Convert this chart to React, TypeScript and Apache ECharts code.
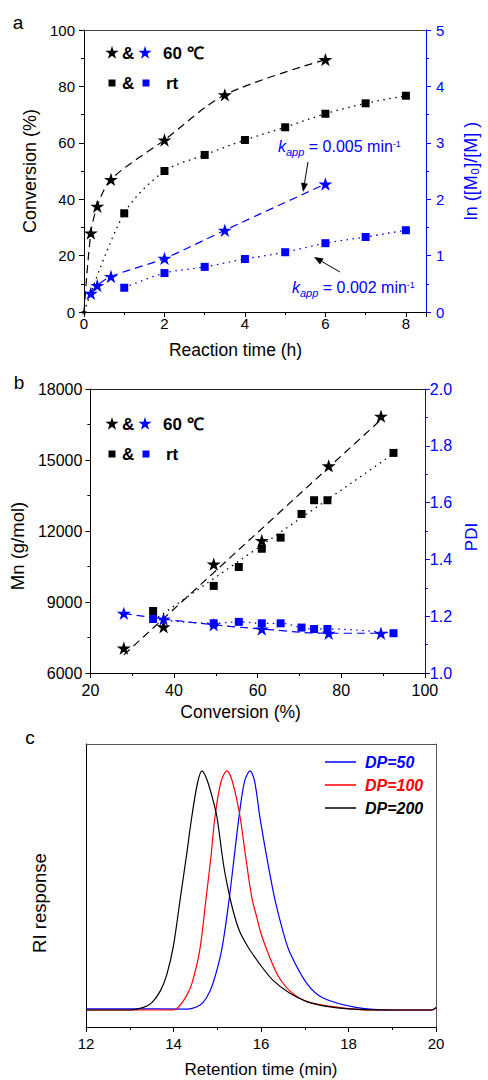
import React, { useEffect, useRef } from "react";
import * as echarts from "echarts";

const FONT = "Liberation Sans, Arial, sans-serif";
const BLUE = "#0000ff";
const RED = "#ff0000";
const BLACK = "#000000";

// ---------- Panel a ----------
const timeStar60 = [0, 0.17, 0.33, 0.67, 2, 3.5, 6];
const conv60 = [0, 28, 37.5, 47, 61, 77, 89.5];
const timeBlueStar = [0.17, 0.33, 0.67, 2, 3.5, 6];
const ln60 = [0.33, 0.47, 0.63, 0.95, 1.45, 2.27];
const timeRT = [1, 2, 3, 4, 5, 6, 7, 8];
const convRT = [35, 50, 55.7, 61, 65.5, 70.3, 74, 76.7];
const lnRT = [0.43, 0.69, 0.8, 0.94, 1.06, 1.22, 1.33, 1.45];

// ---------- Panel b ----------
const convStarB = [28, 37.5, 49.5, 61, 77, 89.5];
const mnStarB = [7050, 7950, 10600, 11600, 14750, 16850];
const pdiStarB = [1.21, 1.19, 1.17, 1.155, 1.14, 1.14];
const convSqB = [35, 49.5, 55.5, 61, 65.5, 70.5, 73.5, 76.7, 92.5];
const mnSqB = [8620, 9680, 10480, 11250, 11720, 12720, 13300, 13300, 15300];
const pdiSqB = [1.19, 1.175, 1.18, 1.175, 1.175, 1.16, 1.155, 1.155, 1.14];

// ---------- Panel c (GPC traces, normalised RI response) ----------
const tDP200 = [12, 13, 13.3, 13.5, 13.7, 13.85, 14, 14.15, 14.3, 14.42, 14.55, 14.65, 14.75, 14.87, 14.99, 15.15, 15.29, 15.4, 15.52, 15.65, 15.75, 15.98, 16.27, 16.66, 17.05, 17.5, 18, 19, 19.9, 20];
const rDP200 = [0, 0, 0.01, 0.03, 0.08, 0.15, 0.27, 0.46, 0.65, 0.81, 0.95, 1, 0.97, 0.9, 0.81, 0.6, 0.47, 0.39, 0.325, 0.28, 0.25, 0.19, 0.125, 0.07, 0.035, 0.015, 0.005, 0, 0, 0.01];
const tDP100 = [12, 13, 14, 14.15, 14.3, 14.42, 14.6, 14.74, 14.85, 14.95, 15.08, 15.22, 15.32, 15.42, 15.52, 15.65, 15.79, 15.9, 16, 16.2, 16.4, 16.66, 17.05, 17.8, 18.5, 19.9, 20];
const rDP100 = [0, 0, 0, 0.02, 0.06, 0.11, 0.25, 0.46, 0.63, 0.81, 0.95, 1, 0.97, 0.9, 0.81, 0.64, 0.47, 0.39, 0.32, 0.22, 0.14, 0.08, 0.035, 0.01, 0, 0, 0.01];
const tDP50 = [12, 13, 14.3, 14.6, 14.75, 14.9, 15.1, 15.27, 15.4, 15.52, 15.63, 15.75, 15.85, 15.98, 16.15, 16.32, 16.5, 16.66, 17.05, 17.42, 18.2, 19, 19.9, 20];
const rDP50 = [0.005, 0.005, 0.004, 0.02, 0.05, 0.11, 0.25, 0.46, 0.66, 0.84, 0.96, 1, 0.96, 0.8, 0.62, 0.46, 0.33, 0.24, 0.11, 0.05, 0.01, 0, 0, 0.01];

const legendC = ["DP=50", "DP=100", "DP=200"];
const legendCColors = [BLUE, RED, BLACK];

const STAR =
  "path://M50,0 L61.23,34.55 L97.55,34.55 L68.16,55.9 L79.39,90.45 L50,69.1 L20.61,90.45 L31.84,55.9 L2.45,34.55 L38.77,34.55 Z";

const zip = (xs: number[], ys: number[]) => xs.map((x, i) => [x, ys[i]]);

function fitLine(xs: number[], ys: number[]) {
  const n = xs.length;
  const mx = xs.reduce((a, b) => a + b, 0) / n;
  const my = ys.reduce((a, b) => a + b, 0) / n;
  let sxy = 0, sxx = 0;
  for (let i = 0; i < n; i++) {
    sxy += (xs[i] - mx) * (ys[i] - my);
    sxx += (xs[i] - mx) * (xs[i] - mx);
  }
  const b = sxy / sxx;
  const a = my - b * mx;
  const x0 = Math.min(...xs), x1 = Math.max(...xs);
  return [[x0, a + b * x0], [x1, a + b * x1]];
}

function starPts(cx: number, cy: number, R: number) {
  const r = R * 0.382;
  const pts: number[][] = [];
  for (let i = 0; i < 10; i++) {
    const ang = ((-90 + 36 * i) * Math.PI) / 180;
    const rad = i % 2 === 0 ? R : r;
    pts.push([cx + rad * Math.cos(ang), cy + rad * Math.sin(ang)]);
  }
  return pts;
}

function arrow(x1: number, y1: number, x2: number, y2: number) {
  const dx = x2 - x1, dy = y2 - y1;
  const L = Math.hypot(dx, dy);
  const ux = dx / L, uy = dy / L;
  const hl = 9, hw = 3.5;
  const bx = x2 - ux * hl, by = y2 - uy * hl;
  const px = -uy, py = ux;
  return [
    { type: "line", shape: { x1, y1, x2: bx, y2: by }, style: { stroke: BLACK, lineWidth: 1 } },
    {
      type: "polygon",
      shape: { points: [[x2, y2], [bx + px * hw, by + py * hw], [bx - px * hw, by - py * hw]] },
      style: { fill: BLACK },
    },
  ];
}

function legendBlock(y1: number, y2: number) {
  const t = (x: number, y: number, text: string, size = 17) => ({
    type: "text",
    x,
    y,
    style: { text, fill: BLACK, fontFamily: FONT, fontSize: size, fontWeight: "bold", verticalAlign: "middle", align: "left" },
  });
  return [
    { type: "polygon", shape: { points: starPts(112, y1, 7) }, style: { fill: BLACK } },
    t(122, y1, "&"),
    { type: "polygon", shape: { points: starPts(145, y1, 7) }, style: { fill: BLUE } },
    t(163, y1, "60 \u2103"),
    { type: "rect", shape: { x: 108.5, y: y2 - 3.5, width: 7, height: 7 }, style: { fill: BLACK } },
    t(122, y2, "&"),
    { type: "rect", shape: { x: 142.5, y: y2 - 3.5, width: 7, height: 7 }, style: { fill: BLUE } },
    t(166, y2, "rt"),
  ];
}

function kapp(x: number, center: number, val: string) {
  return {
    type: "text",
    x,
    y: center,
    style: {
      text: `{k|k}{s|app}{n| = ${val} min}{p|-1}`,
      fill: BLUE,
      fontFamily: FONT,
      verticalAlign: "middle",
      align: "left",
      rich: {
        k: { fontStyle: "italic", fontSize: 16, fill: BLUE, fontFamily: FONT },
        s: { fontStyle: "italic", fontSize: 11, fill: BLUE, fontFamily: FONT, padding: [10, 0, 0, 0] },
        n: { fontSize: 16, fill: BLUE, fontFamily: FONT },
        p: { fontSize: 9, fill: BLUE, fontFamily: FONT, padding: [0, 0, 5, 0] },
      },
    },
  };
}

function axisBase(color: string, fontSize: number) {
  return {
    axisLine: { show: true, onZero: false, lineStyle: { color, width: 1 } },
    axisTick: { show: true, length: 5, lineStyle: { color } },
    minorTick: { show: true, splitNumber: 2, length: 3, lineStyle: { color } },
    splitLine: { show: false },
    minorSplitLine: { show: false },
    axisLabel: { color, fontFamily: FONT, fontSize },
  };
}

function frameAxis(gridIndex: number, position: string, color: string) {
  return {
    gridIndex,
    position,
    type: "value",
    axisLine: { show: true, onZero: false, lineStyle: { color, width: 1 } },
    axisTick: { show: false },
    axisLabel: { show: false },
    splitLine: { show: false },
  };
}

function buildOption() {
  const nameStyle = (color: string, size: number, padding: number[] = [0, 0, 0, 0]) => ({
    color, fontFamily: FONT, fontSize: size, padding,
  });
  const b = axisBase(BLACK, 15);
  const b16 = axisBase(BLACK, 16);
  const bl = axisBase(BLUE, 15);
  const bl16 = axisBase(BLUE, 16);

  const xAxis: any[] = [
    {
      gridIndex: 0, type: "value", position: "bottom", min: 0, max: 8.5, interval: 2,
      ...b,
      axisLabel: { ...b.axisLabel, margin: 4, formatter: (v: number) => (v % 2 === 0 ? String(v) : "") },
      name: "Reaction time (h)", nameLocation: "middle", nameGap: 29,
      nameTextStyle: nameStyle(BLACK, 17.5, [0, 39, 0, 0]),
    },
    { ...frameAxis(0, "top", "#444"), min: 0, max: 8.5 },
    {
      gridIndex: 1, type: "value", position: "bottom", min: 20, max: 100, interval: 20,
      ...b16,
      axisLabel: { ...b16.axisLabel, margin: 9 },
      name: "Conversion (%)", nameLocation: "middle", nameGap: 30,
      nameTextStyle: nameStyle(BLACK, 17.5, [0, 34, 0, 0]),
    },
    { ...frameAxis(1, "top", "#222"), min: 20, max: 100 },
    {
      gridIndex: 2, type: "value", position: "bottom", min: 12, max: 20, interval: 2,
      ...b,
      axisLabel: { ...b.axisLabel, margin: 9 },
      name: "Retention time (min)", nameLocation: "middle", nameGap: 34, nameTextStyle: nameStyle(BLACK, 17),
    },
    { ...frameAxis(2, "top", "#555"), min: 12, max: 20 },
  ];

  const yAxis: any[] = [
    {
      gridIndex: 0, type: "value", position: "left", min: 0, max: 100, interval: 20,
      ...b,
      axisLabel: { ...b.axisLabel, margin: 9 },
      name: "Conversion (%)", nameLocation: "middle", nameRotate: 90, nameGap: 42, nameTextStyle: nameStyle(BLACK, 18),
    },
    {
      gridIndex: 0, type: "value", position: "right", min: 0, max: 5, interval: 1,
      ...bl,
      axisLabel: { ...bl.axisLabel, margin: 10 },
      name: "ln ([M\u2080]/[M] )", nameLocation: "middle", nameRotate: 90, nameGap: 36, nameTextStyle: nameStyle(BLUE, 18),
    },
    {
      gridIndex: 1, type: "value", position: "left", min: 6000, max: 18000, interval: 3000,
      ...b16,
      axisLabel: { ...b16.axisLabel, margin: 8, formatter: (v: number) => String(v) },
      name: "Mn (g/mol)", nameLocation: "middle", nameRotate: 90, nameGap: 53,
      nameTextStyle: nameStyle(BLACK, 18.5, [0, 30, 0, 0]),
    },
    {
      gridIndex: 1, type: "value", position: "right", min: 1.0, max: 2.0, interval: 0.2,
      ...bl16,
      axisLabel: { ...bl16.axisLabel, margin: 5, formatter: (v: number) => v.toFixed(1) },
      name: "PDI", nameLocation: "middle", nameRotate: 90, nameGap: 33,
      nameTextStyle: nameStyle(BLUE, 17, [0, 12, 0, 0]),
    },
    {
      gridIndex: 2, type: "value", position: "left", min: -0.071, max: 1.112,
      axisLine: { show: true, onZero: false, lineStyle: { color: BLACK } },
      axisTick: { show: false }, axisLabel: { show: false }, splitLine: { show: false },
      name: "RI response", nameLocation: "middle", nameRotate: 90, nameGap: 37,
      nameTextStyle: nameStyle(BLACK, 18.5, [0, 35, 0, 0]),
    },
    { ...frameAxis(2, "right", "#555"), min: -0.071, max: 1.112 },
  ];

  const dash = [8, 5];
  const dot = [1.5, 4.5];

  const series: any[] = [
    // panel a
    {
      type: "line", name: "conv60", xAxisIndex: 0, yAxisIndex: 0, smooth: 0.3,
      data: zip(timeStar60, conv60).map((p, i) => (i === 0 ? { value: p, symbolSize: 6 } : p)),
      symbol: STAR, symbolSize: 14, symbolKeepAspect: true, showSymbol: true,
      itemStyle: { color: BLACK }, lineStyle: { color: BLACK, width: 1.2, type: dash }, z: 3,
    },
    {
      type: "line", name: "convRT", xAxisIndex: 0, yAxisIndex: 0, smooth: 0.3,
      data: [{ value: [0, 0], symbol: "none" }, ...zip(timeRT, convRT)],
      symbol: "rect", symbolSize: 8, showSymbol: true,
      itemStyle: { color: BLACK }, lineStyle: { color: BLACK, width: 1.3, type: dot }, z: 3,
    },
    {
      type: "line", name: "ln60", xAxisIndex: 0, yAxisIndex: 1, smooth: 0.3,
      data: zip(timeBlueStar, ln60),
      symbol: STAR, symbolSize: 14, symbolKeepAspect: true, showSymbol: true,
      itemStyle: { color: BLUE }, lineStyle: { color: BLUE, width: 1.2, type: dash }, z: 3,
    },
    {
      type: "line", name: "lnRT", xAxisIndex: 0, yAxisIndex: 1, smooth: 0.3,
      data: zip(timeRT, lnRT),
      symbol: "rect", symbolSize: 8, showSymbol: true,
      itemStyle: { color: BLUE }, lineStyle: { color: BLUE, width: 1.3, type: dot }, z: 3,
    },
    // panel b: fits
    {
      type: "line", name: "mnStarFit", xAxisIndex: 2, yAxisIndex: 2, symbol: "none",
      data: fitLine(convStarB, mnStarB), lineStyle: { color: BLACK, width: 1.2, type: dash },
    },
    {
      type: "line", name: "mnSqFit", xAxisIndex: 2, yAxisIndex: 2, symbol: "none",
      data: fitLine(convSqB, mnSqB), lineStyle: { color: BLACK, width: 1.3, type: dot },
    },
    {
      type: "line", name: "pdiStarLine", xAxisIndex: 2, yAxisIndex: 3, symbol: "none", smooth: 0.4,
      data: zip(convStarB, pdiStarB), lineStyle: { color: BLUE, width: 1.2, type: dash },
    },
    {
      type: "line", name: "pdiSqLine", xAxisIndex: 2, yAxisIndex: 3, symbol: "none", smooth: 0.4,
      data: zip(convSqB, pdiSqB), lineStyle: { color: BLUE, width: 1.3, type: dot },
    },
    // panel b: markers
    {
      type: "scatter", name: "mnStar", xAxisIndex: 2, yAxisIndex: 2, data: zip(convStarB, mnStarB),
      symbol: STAR, symbolSize: 14, symbolKeepAspect: true, itemStyle: { color: BLACK, opacity: 1 }, z: 4,
    },
    {
      type: "scatter", name: "mnSq", xAxisIndex: 2, yAxisIndex: 2, data: zip(convSqB, mnSqB),
      symbol: "rect", symbolSize: 8, itemStyle: { color: BLACK, opacity: 1 }, z: 4,
    },
    {
      type: "scatter", name: "pdiStar", xAxisIndex: 2, yAxisIndex: 3, data: zip(convStarB, pdiStarB),
      symbol: STAR, symbolSize: 14, symbolKeepAspect: true, itemStyle: { color: BLUE, opacity: 1 }, z: 4,
    },
    {
      type: "scatter", name: "pdiSq", xAxisIndex: 2, yAxisIndex: 3, data: zip(convSqB, pdiSqB),
      symbol: "rect", symbolSize: 8, itemStyle: { color: BLUE, opacity: 1 }, z: 4,
    },
    // panel c
    {
      type: "line", name: legendC[0], xAxisIndex: 4, yAxisIndex: 4, symbol: "none", smooth: 0.3,
      data: zip(tDP50, rDP50), itemStyle: { color: BLUE }, lineStyle: { color: BLUE, width: 1.2 },
    },
    {
      type: "line", name: legendC[1], xAxisIndex: 4, yAxisIndex: 4, symbol: "none", smooth: 0.3,
      data: zip(tDP100, rDP100), itemStyle: { color: RED }, lineStyle: { color: RED, width: 1.2 },
    },
    {
      type: "line", name: legendC[2], xAxisIndex: 4, yAxisIndex: 4, symbol: "none", smooth: 0.3,
      data: zip(tDP200, rDP200), itemStyle: { color: BLACK }, lineStyle: { color: BLACK, width: 1.2 },
    },
  ];

  const panelLetter = (x: number, y: number, t: string) => ({
    type: "text", x, y,
    style: { text: t, fill: BLACK, fontFamily: FONT, fontSize: 19, align: "center", verticalAlign: "middle" },
  });

  const legendCItems: any[] = [];
  const rowY = [762, 785, 808];
  legendC.forEach((name, i) => {
    legendCItems.push({
      type: "line",
      shape: { x1: 325, y1: rowY[i], x2: 356, y2: rowY[i] },
      style: { stroke: legendCColors[i], lineWidth: 1.5 },
    });
    legendCItems.push({
      type: "text", x: 365, y: rowY[i],
      style: {
        text: name, fill: legendCColors[i], fontFamily: FONT, fontSize: 16,
        fontWeight: "bold", fontStyle: "italic", verticalAlign: "middle", align: "left",
      },
    });
  });

  const graphic: any[] = [
    panelLetter(18, 22, "a"),
    panelLetter(19, 382, "b"),
    panelLetter(30, 737, "c"),
    ...legendBlock(53, 83),
    ...legendBlock(424, 454),
    kapp(278, 146.5, "0.005"),
    kapp(292, 287.5, "0.002"),
    ...arrow(308, 162, 303, 192),
    ...arrow(340, 272, 314, 257),
    ...legendCItems,
  ];

  return {
    animation: false,
    backgroundColor: "#ffffff",
    textStyle: { fontFamily: FONT },
    grid: [
      { left: 84, top: 30, width: 349, height: 282 },
      { left: 87, top: 389, width: 350, height: 284 },
      { left: 86, top: 744, width: 350, height: 283 },
    ],
    xAxis,
    yAxis,
    series,
    graphic,
  };
}

export default function App() {
  const ref = useRef<HTMLDivElement>(null);
  useEffect(() => {
    document.body.style.margin = "0";
    const chart = echarts.init(ref.current!, null, { renderer: "svg" });
    chart.setOption(buildOption() as any);
    return () => chart.dispose();
  }, []);
  return <div ref={ref} style={{ width: 488, height: 1080, position: "absolute", left: 0, top: 0 }} />;
}
